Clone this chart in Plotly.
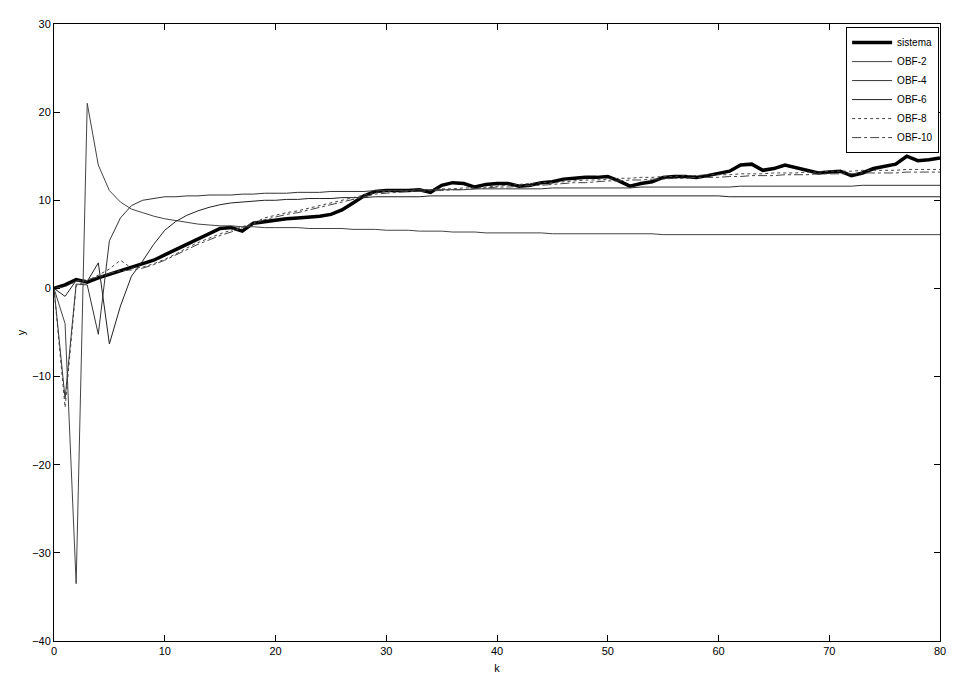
import plotly.graph_objects as go

k = list(range(81))

sistema = [0.0, 0.4, 1.0, 0.7, 1.2, 1.6, 2.0, 2.3, 2.7, 3.2,
           3.8, 4.4, 5.0, 5.6, 6.2, 6.8, 6.9, 6.5, 7.4, 7.6,
           7.8, 7.9, 8.0, 8.1, 8.2, 8.4, 8.9, 9.7, 10.5, 11.0,
           11.1, 11.1, 11.1, 11.2, 10.9, 11.7, 12.0, 11.9, 11.5, 11.8,
           11.9, 11.9, 11.6, 11.7, 12.0, 12.1, 12.4, 12.5, 12.6, 12.6,
           12.7, 12.2, 11.6, 11.9, 12.1, 12.6, 12.7, 12.7, 12.6, 12.8,
           13.0, 13.3, 14.0, 14.1, 13.4, 13.6, 14.0, 13.7, 13.4, 13.1,
           13.2, 13.3, 12.8, 13.1, 13.6, 13.9, 14.1, 15.0, 14.5, 14.6,
           14.8]

obf2 = [0.0, -4.0, -33.5, 21.0, 14.0, 11.1, 9.8, 9.0, 8.6, 8.2,
        7.9, 7.7, 7.5, 7.3, 7.2, 7.1, 7.1, 7.0, 7.0, 6.9,
        6.9, 6.9, 6.9, 6.8, 6.8, 6.8, 6.8, 6.7, 6.7, 6.7,
        6.6, 6.6, 6.6, 6.5, 6.5, 6.5, 6.4, 6.4, 6.4, 6.3,
        6.3, 6.3, 6.3, 6.3, 6.3, 6.2, 6.2, 6.2, 6.2, 6.2,
        6.2, 6.2, 6.2, 6.2, 6.2, 6.1, 6.1, 6.1, 6.1, 6.1,
        6.1, 6.1, 6.1, 6.1, 6.1, 6.1, 6.1, 6.1, 6.1, 6.1,
        6.1, 6.1, 6.1, 6.1, 6.1, 6.1, 6.1, 6.1, 6.1, 6.1,
        6.1]

obf4 = [0.0, -12.5, 0.5, 0.4, -5.2, 5.4, 8.0, 9.4, 10.0, 10.2,
        10.4, 10.4, 10.5, 10.5, 10.6, 10.6, 10.6, 10.7, 10.7, 10.8,
        10.8, 10.8, 10.9, 10.9, 10.9, 11.0, 11.0, 11.0, 11.0, 11.1,
        11.1, 11.1, 11.1, 11.2, 11.2, 11.2, 11.2, 11.2, 11.3, 11.3,
        11.3, 11.3, 11.3, 11.3, 11.3, 11.4, 11.4, 11.4, 11.4, 11.4,
        11.4, 11.4, 11.4, 11.5, 11.5, 11.5, 11.5, 11.5, 11.5, 11.5,
        11.5, 11.5, 11.6, 11.6, 11.6, 11.6, 11.6, 11.6, 11.6, 11.6,
        11.6, 11.6, 11.6, 11.7, 11.7, 11.7, 11.7, 11.7, 11.7, 11.7,
        11.7]

obf6 = [0.0, -0.9, 0.9, 0.8, 2.9, -6.3, -2.0, 1.4, 3.1, 5.0,
        6.6, 7.6, 8.3, 8.8, 9.2, 9.5, 9.7, 9.8, 9.9, 10.0,
        10.0, 10.1, 10.1, 10.2, 10.2, 10.2, 10.3, 10.3, 10.3, 10.4,
        10.4, 10.4, 10.4, 10.4, 10.5, 10.5, 10.5, 10.5, 10.5, 10.5,
        10.5, 10.5, 10.5, 10.5, 10.5, 10.5, 10.5, 10.5, 10.5, 10.5,
        10.5, 10.5, 10.5, 10.5, 10.5, 10.5, 10.5, 10.5, 10.5, 10.5,
        10.5, 10.4, 10.4, 10.4, 10.4, 10.4, 10.4, 10.4, 10.4, 10.4,
        10.4, 10.4, 10.4, 10.4, 10.4, 10.4, 10.4, 10.4, 10.4, 10.4,
        10.4]

obf8 = [0.0, -13.5, 0.3, 0.9, 1.5, 2.2, 3.2, 2.3, 2.4, 2.8,
        3.3, 3.9, 4.6, 5.2, 5.7, 6.2, 6.6, 7.0, 7.4, 8.0,
        8.3, 8.6, 8.8, 9.1, 9.4, 9.7, 10.0, 10.3, 10.6, 10.9,
        11.0, 11.1, 11.1, 11.2, 11.2, 11.3, 11.3, 11.4, 11.4, 11.5,
        11.6, 11.7, 11.8, 11.9, 12.0, 12.0, 12.1, 12.2, 12.3, 12.3,
        12.4, 12.5, 12.5, 12.6, 12.6, 12.7, 12.7, 12.8, 12.8, 12.9,
        12.9, 12.9, 13.0, 13.0, 13.0, 13.1, 13.1, 13.1, 13.2, 13.2,
        13.3, 13.3, 13.3, 13.4, 13.4, 13.4, 13.4, 13.5, 13.5, 13.5,
        13.5]

obf10 = [0.0, 0.2, 0.8, 1.0, 1.3, 1.7, 2.0, 2.1, 2.3, 2.7,
         3.2, 3.8, 4.4, 5.0, 5.5, 6.0, 6.4, 6.9, 7.3, 7.8,
         8.1, 8.4, 8.6, 8.9, 9.2, 9.5, 9.8, 10.1, 10.4, 10.7,
         10.8, 10.9, 11.0, 11.0, 11.1, 11.1, 11.2, 11.2, 11.3, 11.4,
         11.5, 11.5, 11.6, 11.7, 11.7, 11.8, 11.9, 12.0, 12.0, 12.1,
         12.2, 12.2, 12.3, 12.3, 12.4, 12.4, 12.5, 12.5, 12.6, 12.6,
         12.6, 12.7, 12.7, 12.8, 12.8, 12.8, 12.9, 12.9, 12.9, 13.0,
         13.0, 13.0, 13.0, 13.1, 13.1, 13.1, 13.1, 13.2, 13.2, 13.2,
         13.2]

series = [
    ("sistema", sistema, dict(color="black", width=3.5)),
    ("OBF-2", obf2, dict(color="#444444", width=1)),
    ("OBF-4", obf4, dict(color="#333333", width=1)),
    ("OBF-6", obf6, dict(color="#222222", width=1)),
    ("OBF-8", obf8, dict(color="#444444", width=1, dash="dot")),
    ("OBF-10", obf10, dict(color="#444444", width=1, dash="dashdot")),
]

fig = go.Figure()
for name, vals, line in series:
    fig.add_trace(go.Scatter(x=k, y=vals, name=name, mode="lines", line=line))

axis_common = dict(
    showline=True, linecolor="black", linewidth=1, mirror="ticks",
    ticks="inside", ticklen=6, tickcolor="black", showgrid=False, zeroline=False,
    tickfont=dict(size=11, color="black"),
)
fig.update_xaxes(range=[0, 80], tick0=0, dtick=10,
                 title=dict(text="k", standoff=8, font=dict(size=11)), **axis_common)
fig.update_yaxes(range=[-40, 30], tick0=-40, dtick=10,
                 title=dict(text="y", standoff=4, font=dict(size=11)), **axis_common)

fig.update_layout(
    width=954, height=681,
    margin=dict(l=54, r=8, t=24, b=35),
    plot_bgcolor="white", paper_bgcolor="white",
    font=dict(family="Arial, Liberation Sans, sans-serif", size=11, color="black"),
    legend=dict(x=0.999, y=0.995, xanchor="right", yanchor="top",
                bordercolor="black", borderwidth=1, bgcolor="white",
                font=dict(size=10), tracegroupgap=0, itemwidth=40),
)

fig.write_html("out.html")
